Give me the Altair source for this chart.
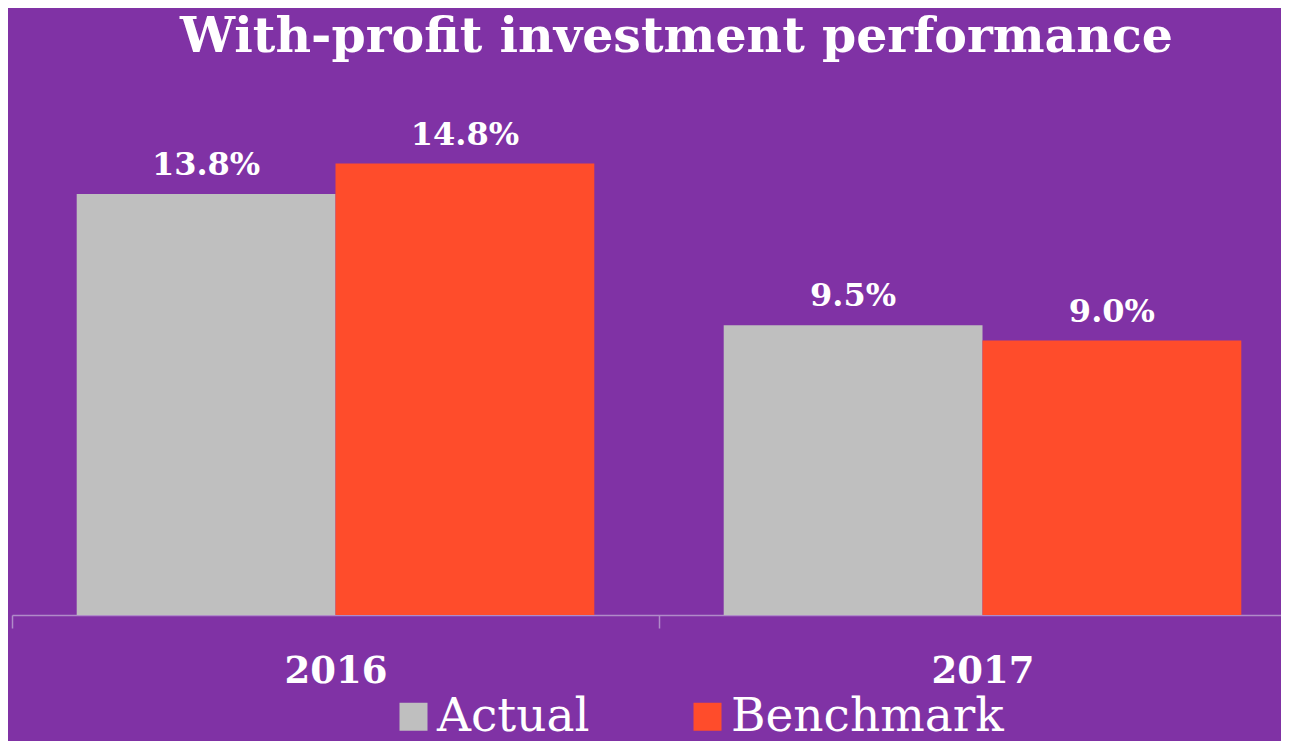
import altair as alt
import pandas as pd

years = ["2016", "2016", "2017", "2017"]
series = ["Actual", "Benchmark", "Actual", "Benchmark"]
values = [13.8, 14.8, 9.5, 9.0]
labels = ["13.8%", "14.8%", "9.5%", "9.0%"]

df = pd.DataFrame({"year": years, "series": series, "value": values, "label": labels})

BG = "#8032A5"
AXIS_C = "#B08BC9"
color_scale = alt.Scale(domain=["Actual", "Benchmark"], range=["#BFBFBF", "#FF4C2B"])

base = alt.Chart(df).encode(
    x=alt.X(
        "year:N",
        title=None,
        scale=alt.Scale(range=[0, 1294], paddingInner=0, paddingOuter=0),
        axis=alt.Axis(
            labelAngle=0,
            domainColor=AXIS_C,
            domainWidth=1.5,
            tickColor=AXIS_C,
            tickWidth=1.5,
            tickSize=13,
            tickBand="extent",
            labelFont="DejaVu Serif",
            labelFontSize=37,
            labelFontWeight="bold",
            labelColor="white",
            labelBaseline="alphabetic",
            labelPadding=54,
            grid=False,
        ),
    ),
    xOffset=alt.XOffset("series:N", scale=alt.Scale(paddingInner=0, paddingOuter=0.25)),
)

bars = base.mark_bar().encode(
    y=alt.Y("value:Q", scale=alt.Scale(domain=[0, 16]), axis=None),
    color=alt.Color(
        "series:N",
        scale=color_scale,
        legend=alt.Legend(
            title=None,
            orient="none",
            legendX=378,
            legendY=566,
            direction="horizontal",
            symbolType="square",
            symbolSize=784,
            symbolStrokeWidth=0,
            symbolOpacity=1,
            labelFont="DejaVu Serif",
            labelFontSize=47,
            labelColor="white",
            labelOffset=0,
            columnPadding=94,
            labelLimit=600,
            padding=0,
        ),
    ),
)

text = base.mark_text(
    dy=-19,
    baseline="alphabetic",
    font="DejaVu Serif",
    fontSize=32,
    fontWeight="bold",
    color="white",
).encode(y=alt.Y("value:Q"), text="label:N")

chart = (
    alt.layer(bars, text)
    .properties(
        width=1269,
        height=488,
        title=alt.TitleParams(
            text="With-profit investment performance",
            font="DejaVu Serif",
            fontSize=49,
            fontWeight="bold",
            color="white",
            anchor="middle",
            dx=30,
            offset=18,
            baseline="alphabetic",
        ),
        padding={"left": 4, "top": 119, "right": 0, "bottom": 126},
        autosize=alt.AutoSizeParams(type="none"),
    )
    .configure(background=BG)
    .configure_view(stroke=None)
)

chart.save("out.html", embed_options={"renderer": "svg", "actions": False})
